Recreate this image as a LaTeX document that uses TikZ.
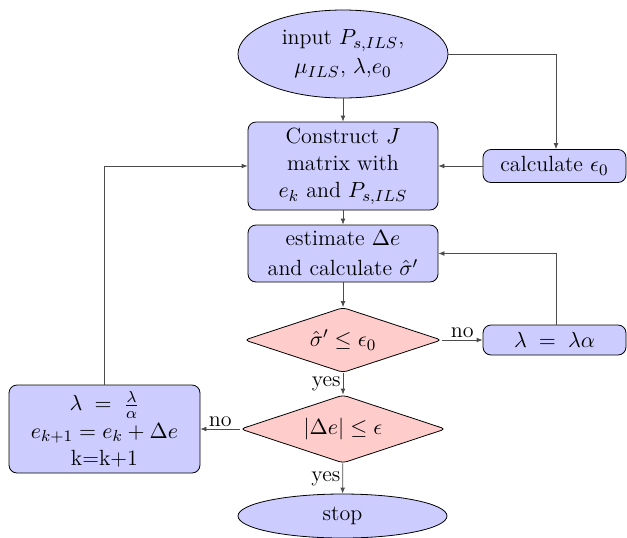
\documentclass[tikz,border=0pt]{standalone}
\usetikzlibrary{shapes.geometric,arrows.meta}
\begin{document}
\begin{tikzpicture}[x=0.5pt,y=-0.5pt,
  every node/.style={font=\fontsize{11}{13.6}\selectfont},
  blk/.style={draw=black, fill=blue!20, rounded corners=4pt, align=center, inner sep=1pt},
  ell/.style={draw=black, fill=blue!20, ellipse, align=center, inner sep=0pt},
  dia/.style={draw=black, fill=red!20, diamond, aspect=3.2, align=center, inner sep=0pt, rounded corners=2pt},
  arr/.style={draw=black!70, -{Latex[length=3pt,width=2.4pt]}},
  lbl/.style={inner sep=1pt}]
\useasboundingbox (0,0) rectangle (627,537);
\node[ell, minimum width=105pt, minimum height=44pt] (in) at (343,54) {input $P_{s,ILS}$,\\[1pt] $\mu_{ILS}$, $\lambda$,$e_0$};
\node[blk, minimum width=95pt, minimum height=44pt] (J) at (343,166) {Construct $J$\\ matrix with\\ $e_k$ and $P_{s,ILS}$};
\node[blk, minimum width=71.5pt, minimum height=16.5pt] (c0) at (554.5,166) {calculate $\epsilon_0$};
\node[blk, minimum width=95pt, minimum height=28.5pt] (est) at (343,253.5) {estimate $\Delta e$\\[1.5pt] and calculate $\hat\sigma'$};
\node[dia, minimum width=98.5pt, minimum height=32.5pt] (d1) at (343,340) {$\hat\sigma' \le \epsilon_0$};
\node[blk, minimum width=71.5pt, minimum height=15pt] (la) at (554.5,340) {$\lambda \;=\; \lambda\alpha$};
\node[dia, minimum width=102.5pt, minimum height=34pt] (d2) at (343,429) {$|\Delta e| \le \epsilon$};
\node[blk, minimum width=95.5pt, minimum height=44pt] (up) at (104.5,429) {$\lambda \;=\; \frac{\lambda}{\alpha}$\\ $e_{k+1}=e_k+\Delta e$\\ k=k+1};
\node[ell, minimum width=104.5pt, minimum height=22pt] (stop) at (342.5,516) {stop};
\coordinate (cA) at (556,54);
\coordinate (cB) at (556,253.5);
\coordinate (cC) at (104.5,166);
\draw[arr] (in) -- (J);
\draw[arr] (in.east) -- (cA) -- (c0.north -| cA);
\draw[arr] (c0) -- (J);
\draw[arr] (J) -- (est);
\draw[arr] (est) -- (d1);
\draw[arr] (d1) -- node[lbl, above]{no} (la);
\draw[arr] (la.north -| cB) -- (cB) -- (est.east);
\draw[arr] (d1) -- node[lbl, left]{yes} (d2);
\draw[arr] (d2) -- node[lbl, above]{no} (up);
\draw[arr] (up.north) -- (cC) -- (J.west);
\draw[arr] (d2) -- node[lbl, left]{yes} (stop);
\end{tikzpicture}
\end{document}
